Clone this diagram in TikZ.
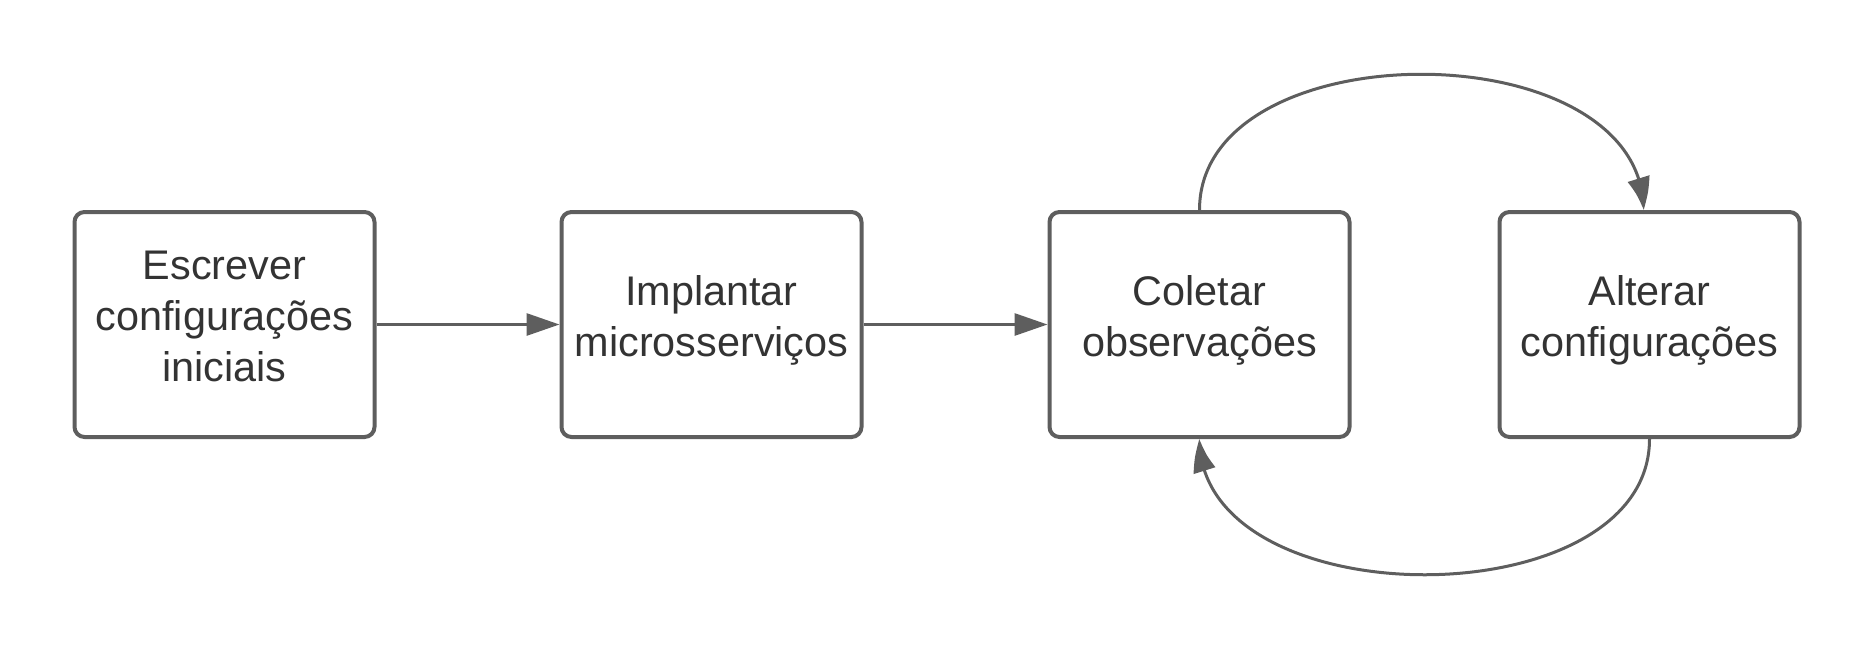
\documentclass[tikz,border=0pt]{standalone}
\usepackage{fontspec}
\setmainfont{Liberation Sans}
\usetikzlibrary{arrows.meta,bending}
\definecolor{linegray}{HTML}{5E5E5E}
\definecolor{textgray}{HTML}{333333}
\begin{document}
\begin{tikzpicture}[x=1pt,y=-1pt,
  box/.style={draw=linegray, line width=4pt, rounded corners=10pt, minimum width=300pt, minimum height=225pt, inner sep=0pt},
  txt/.style={align=center, text=textgray, inner sep=0pt, font=\fontsize{41.4pt}{51pt}\selectfont},
  conn/.style={draw=linegray, line width=3pt, -{Triangle[length=33pt,width=22pt,bend]}}]
\useasboundingbox (0,0) rectangle (1875,649);
\node[box, label={[txt, yshift=8.4pt]center:Escrever\\configurações\\iniciais}] (b1) at (224.5,324.5) {};
\node[box, label={[txt, yshift=4pt]center:Implantar\\microsserviços}] (b2) at (711.5,324.5) {};
\node[box, label={[txt, yshift=4pt]center:Coletar\\observações}] (b3) at (1199.5,324.5) {};
\node[box, label={[txt, yshift=4pt]center:Alterar\\configurações}] (b4) at (1649.5,324.5) {};
\draw[conn] (b1.east) -- (b2.west);
\draw[conn] (b2.east) -- (b3.west);
\draw[conn] (b3.north) .. controls (1199.5,29) and (1643,29) .. ([xshift=-6pt]b4.north);
\draw[conn] (b4.south) .. controls (1649.5,620) and (1199.5,620) .. (b3.south);
\end{tikzpicture}
\end{document}
